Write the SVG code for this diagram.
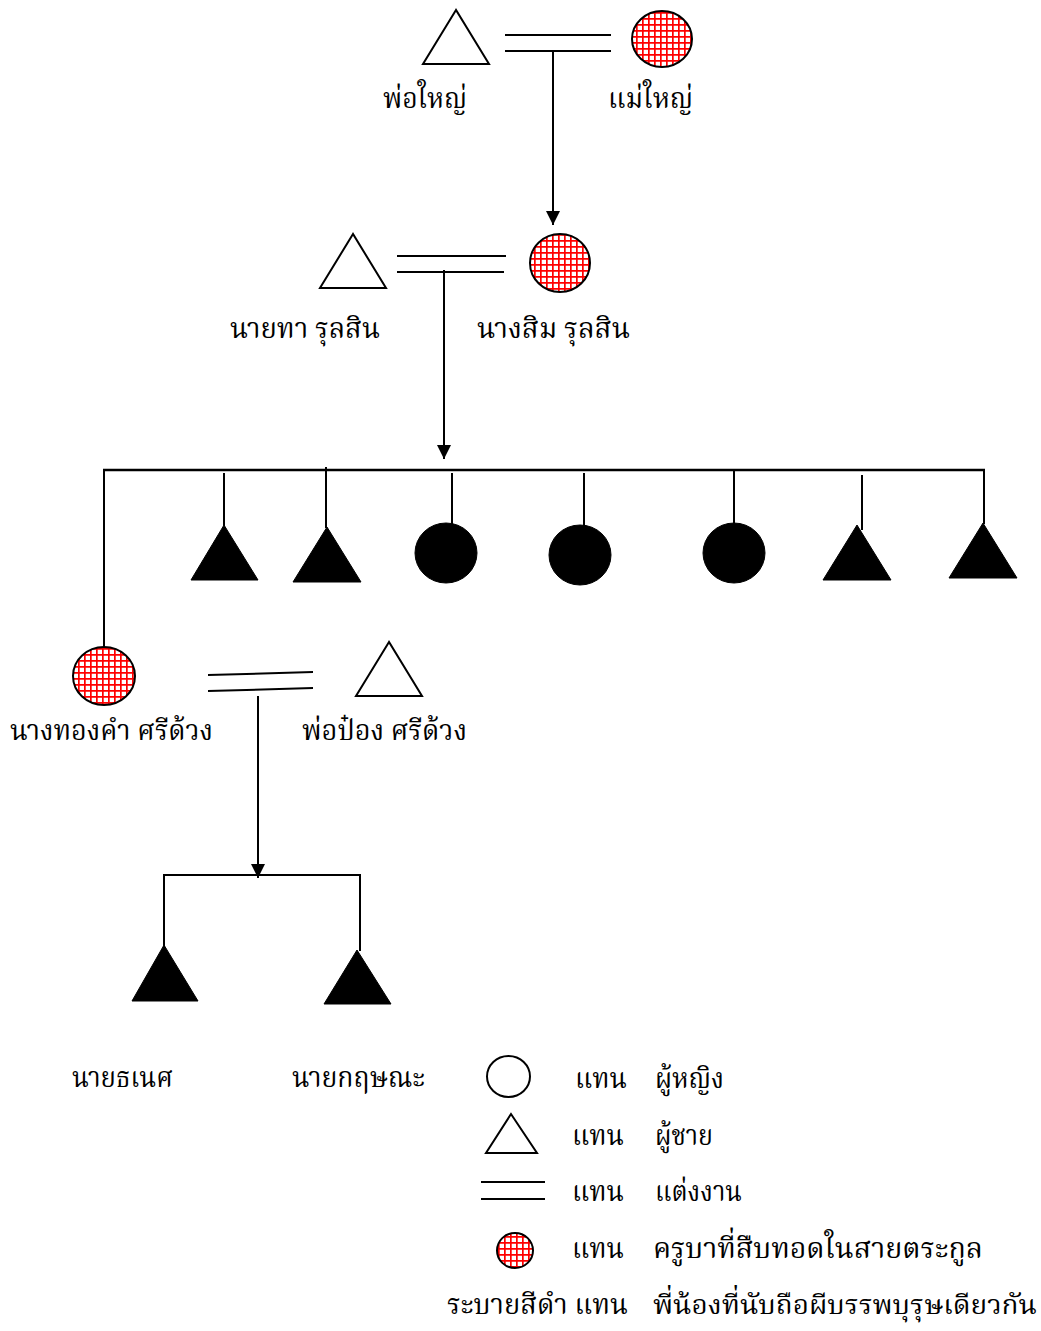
<svg xmlns="http://www.w3.org/2000/svg" width="1041" height="1331" viewBox="0 0 1041 1331">
<style>
.o{fill:#fff;stroke:#000;stroke-width:2}
.k{fill:#000;stroke:#000;stroke-width:1}
.r{fill:url(#grid);stroke:#000;stroke-width:2}
.ln{stroke:#000;stroke-width:2;fill:none}
.t{font-family:"Liberation Serif","Norasi","Noto Serif Thai","Noto Sans Thai",serif;font-size:29px;fill:#000}
</style>
<defs>
<pattern id="grid" patternUnits="userSpaceOnUse" width="6" height="6">
<rect width="6" height="6" fill="#fff"/>
<path d="M0,0.8H6M0.8,0V6" stroke="#f00" stroke-width="1.8"/>
</pattern>
<marker id="ah" viewBox="0 0 10 10" refX="10" refY="5" markerUnits="userSpaceOnUse" markerWidth="14" markerHeight="15" orient="auto">
<path d="M0,0L10,5L0,10z" fill="#000"/>
</marker>
</defs>
<rect width="1041" height="1331" fill="#fff"/>

<g id="connectors">
<line class="ln" x1="505" y1="35" x2="611" y2="35"/>
<line class="ln" x1="505" y1="51" x2="611" y2="51"/>
<line class="ln" x1="553" y1="51" x2="553" y2="225" marker-end="url(#ah)"/>
<line class="ln" x1="397" y1="256" x2="506" y2="256"/>
<line class="ln" x1="397" y1="272" x2="504" y2="272"/>
<line class="ln" x1="444" y1="270" x2="444" y2="459" marker-end="url(#ah)"/>
<line class="ln" x1="103" y1="470" x2="985" y2="470" style="stroke-width:2.5"/>
<line class="ln" x1="104" y1="470" x2="104" y2="648"/>
<line class="ln" x1="224" y1="473" x2="224" y2="526"/>
<line class="ln" x1="326" y1="467" x2="326" y2="528"/>
<line class="ln" x1="452" y1="473" x2="452" y2="524"/>
<line class="ln" x1="584" y1="473" x2="584" y2="526"/>
<line class="ln" x1="734" y1="469" x2="734" y2="524"/>
<line class="ln" x1="862" y1="475" x2="862" y2="530"/>
<line class="ln" x1="984" y1="470" x2="984" y2="524"/>
<line class="ln" x1="208" y1="675" x2="313" y2="672"/>
<line class="ln" x1="208" y1="691" x2="313" y2="688"/>
<line class="ln" x1="258" y1="696" x2="258" y2="878" marker-end="url(#ah)"/>
<line class="ln" x1="163" y1="875" x2="361" y2="875"/>
<line class="ln" x1="164" y1="875" x2="164" y2="947"/>
<line class="ln" x1="360" y1="875" x2="360" y2="951"/>
</g>

<g id="grandfather"><polygon class="o" points="456,10 423,64 489,64"/><text class="t" x="383" y="108" textLength="84" lengthAdjust="spacingAndGlyphs">พ่อใหญ่</text></g>
<g id="grandmother"><ellipse class="r" cx="662" cy="39" rx="30" ry="28"/><text class="t" x="608" y="108" textLength="85" lengthAdjust="spacingAndGlyphs">แม่ใหญ่</text></g>

<g id="nai-tha"><polygon class="o" points="353,234 320,288 386,288"/><text class="t" x="230" y="338" textLength="150" lengthAdjust="spacingAndGlyphs">นายทา รุลสิน</text></g>
<g id="nang-sim"><ellipse class="r" cx="560" cy="263" rx="30" ry="29"/><text class="t" x="477" y="338" textLength="153" lengthAdjust="spacingAndGlyphs">นางสิม รุลสิน</text></g>

<g id="sib1"><polygon class="k" points="224,525 191,580 258,580"/></g>
<g id="sib2"><polygon class="k" points="327,527 293,582 361,582"/></g>
<g id="sib3"><ellipse class="k" cx="446" cy="553" rx="31" ry="30"/></g>
<g id="sib4"><ellipse class="k" cx="580" cy="555" rx="31" ry="30"/></g>
<g id="sib5"><ellipse class="k" cx="734" cy="553" rx="31" ry="30"/></g>
<g id="sib6"><polygon class="k" points="857,525 823,580 891,580"/></g>
<g id="sib7"><polygon class="k" points="983,523 949,578 1017,578"/></g>

<g id="nang-thongkham"><ellipse class="r" cx="104" cy="676" rx="31" ry="29"/><text class="t" x="10" y="740" textLength="203" lengthAdjust="spacingAndGlyphs">นางทองคำ ศรีด้วง</text></g>
<g id="pho-pong"><polygon class="o" points="389,642 356,696 422,696"/><text class="t" x="302" y="740" textLength="165" lengthAdjust="spacingAndGlyphs">พ่อป๋อง ศรีด้วง</text></g>

<g id="nai-thanet"><polygon class="k" points="164,945 132,1001 198,1001"/><text class="t" x="72" y="1087" textLength="101" lengthAdjust="spacingAndGlyphs">นายธเนศ</text></g>
<g id="nai-kritsana"><polygon class="k" points="357,950 324,1004 391,1004"/><text class="t" x="292" y="1087" textLength="133" lengthAdjust="spacingAndGlyphs">นายกฤษณะ</text></g>

<g id="legend">
<ellipse class="o" cx="508.5" cy="1076.5" rx="21.5" ry="20.5"/>
<text class="t" x="575" y="1088" textLength="52" lengthAdjust="spacingAndGlyphs">แทน</text>
<text class="t" x="655" y="1088" textLength="69" lengthAdjust="spacingAndGlyphs">ผู้หญิง</text>
<polygon class="o" points="511,1114 486,1153 537,1153"/>
<text class="t" x="572" y="1145" textLength="52" lengthAdjust="spacingAndGlyphs">แทน</text>
<text class="t" x="655" y="1145" textLength="58" lengthAdjust="spacingAndGlyphs">ผู้ชาย</text>
<line class="ln" x1="481" y1="1182" x2="545" y2="1182"/>
<line class="ln" x1="481" y1="1199" x2="545" y2="1199"/>
<text class="t" x="572" y="1201" textLength="52" lengthAdjust="spacingAndGlyphs">แทน</text>
<text class="t" x="655" y="1201" textLength="87" lengthAdjust="spacingAndGlyphs">แต่งงาน</text>
<ellipse class="r" cx="515" cy="1250.5" rx="18" ry="17.5"/>
<text class="t" x="572" y="1258" textLength="52" lengthAdjust="spacingAndGlyphs">แทน</text>
<text class="t" x="653" y="1258" textLength="330" lengthAdjust="spacingAndGlyphs">ครูบาที่สืบทอดในสายตระกูล</text>
<text class="t" x="447" y="1314" textLength="181" lengthAdjust="spacingAndGlyphs">ระบายสีดำ แทน</text>
<text class="t" x="653" y="1314" textLength="384" lengthAdjust="spacingAndGlyphs" style="font-size:27.5px">พี่น้องที่นับถือผีบรรพบุรุษเดียวกัน</text>
</g>
</svg>
